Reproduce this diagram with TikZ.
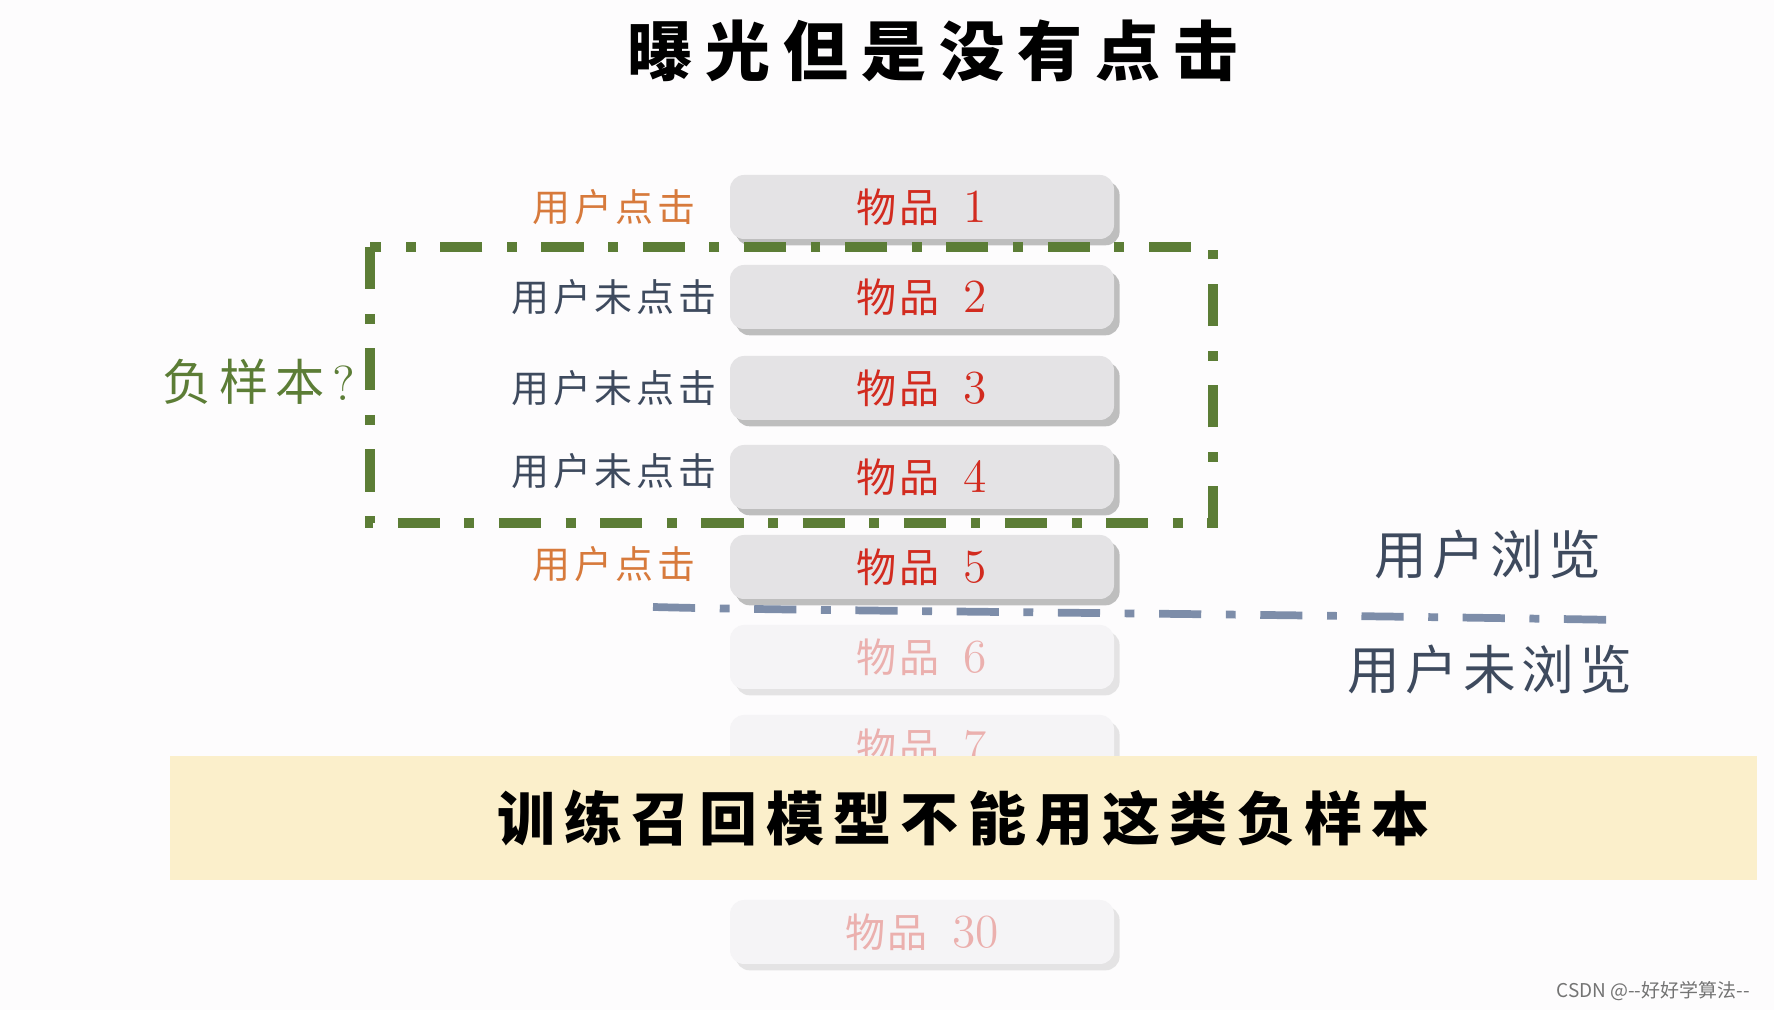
\documentclass[tikz,border=0pt]{standalone}
\usepackage{fontspec}
\newfontfamily\cjk{Noto Sans CJK SC}
\usetikzlibrary{shadows}
\definecolor{bg}{HTML}{FDFCFD}
\definecolor{itemred}{HTML}{D22B1F}
\definecolor{fadedpink}{HTML}{EBB0AE}
\definecolor{clickorange}{HTML}{D77A3C}
\definecolor{slate}{HTML}{3E4A5E}
\definecolor{boxgray}{HTML}{E4E3E5}
\definecolor{boxfaded}{HTML}{F5F4F6}
\definecolor{neggreen}{HTML}{5C7D36}
\definecolor{lineblue}{HTML}{7D8DA9}
\definecolor{bannerfill}{HTML}{FBEFCB}
\newcommand\itemtext[1]{{\cjk\fontsize{11.4}{13}\selectfont\addfontfeature{LetterSpace=6}物品}\hspace{7pt}{\fontsize{13.5}{14}\selectfont #1}}

\begin{document}
\begin{tikzpicture}[
    boxbase/.style={rounded corners=4pt, minimum width=3.84cm, minimum height=.64cm, inner sep=0pt},
    itembox/.style={boxbase, fill=boxgray, text=itemred,
      drop shadow={shadow xshift=1.6pt, shadow yshift=-1.8pt, fill=black!45, opacity=.55}},
    fadedbox/.style={boxbase, fill=boxfaded, text=fadedpink,
      drop shadow={shadow xshift=1.6pt, shadow yshift=-1.8pt, fill=black!20, opacity=.5}},
    clicklabel/.style={text=clickorange, font=\cjk\fontsize{10.8}{12}\selectfont\addfontfeature{LetterSpace=10}},
    noclicklabel/.style={text=slate, font=\cjk\fontsize{10.8}{12}\selectfont\addfontfeature{LetterSpace=10}},
    viewlabel/.style={text=slate, font=\cjk\fontsize{15}{17}\selectfont\addfontfeature{LetterSpace=10}},
    dashdot/.style={line width=2.6pt, dash pattern=on 12pt off 7pt on 2.8pt off 7pt},
  ]
    \useasboundingbox (0,0) rectangle (17.74,10.10);
    \fill[bg] (0,0) rectangle (17.74,10.10);
    \node[font=\cjk\bfseries\fontsize{18.5}{20}\selectfont\addfontfeature{LetterSpace=20}] (title) at (9.33,9.59) {曝光但是没有点击};
    % items
    \foreach \n/\y in {1/8.03,2/7.13,3/6.22,4/5.33,5/4.43}
      \node[itembox] (item\n) at (9.22,\y) {\itemtext{\n}};
    \foreach \n/\y in {6/3.53,7/2.63,30/.78}
      \node[fadedbox] (item\n) at (9.22,\y) {\itemtext{\n}};
    \node[fill=bannerfill, minimum width=15.87cm, minimum height=1.24cm,
      font=\cjk\bfseries\fontsize{16.5}{18}\selectfont\addfontfeature{LetterSpace=16}] (banner) at (9.635,1.92) {训练召回模型不能用这类负样本};
    % labels
    \node[clicklabel] (click1) at (6.14,8.03) {用户点击};
    \node[noclicklabel] (noclick2) at (6.14,7.13) {用户未点击};
    \node[noclicklabel] (noclick3) at (6.14,6.22) {用户未点击};
    \node[noclicklabel] (noclick4) at (6.14,5.39) {用户未点击};
    \node[clicklabel] (click5) at (6.14,4.46) {用户点击};
    \draw[neggreen, dashdot] (3.70,7.63) rectangle (12.13,4.87);
    \node[text=neggreen, font=\cjk\fontsize{14}{16}\selectfont\addfontfeature{LetterSpace=15}] (neg) at (2.59,6.28) {负样本\textrm{?}};
    \draw[lineblue, dashdot, line width=2.2pt] (6.53,4.03) .. controls (8,3.99) and (12,3.97) .. (16.20,3.90);
    \node[viewlabel] (viewed) at (14.88,4.55) {用户浏览};
    \node[viewlabel] (unviewed) at (14.90,3.40) {用户未浏览};
    \node[anchor=east, text=black!55, font=\cjk\fontsize{5.4}{6}\selectfont] (mark) at (17.62,.19) {CSDN @--好好学算法--};
  \end{tikzpicture}
\end{document}
